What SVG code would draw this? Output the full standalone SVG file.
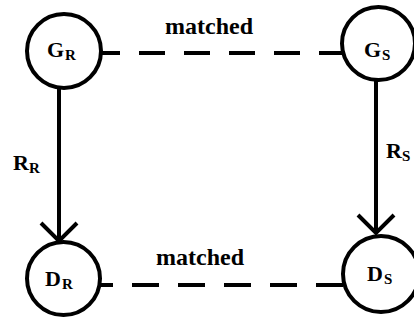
<svg xmlns="http://www.w3.org/2000/svg" width="414" height="324" viewBox="0 0 414 324">
<style>
  .node { fill: #ffffff; stroke: #000000; stroke-width: 4; }
  .edge { fill: none; stroke: #000000; stroke-width: 4; }
  .dash { stroke-dasharray: 26 19; }
  .lbl { font-family: "Liberation Serif", "Times New Roman", serif; font-weight: bold; fill: #000000; font-size: 22px; }
  .sub { font-size: 15px; }
  .elbl { font-family: "Liberation Serif", "Times New Roman", serif; font-weight: bold; fill: #000000; font-size: 24px; }
</style>
<defs>
  <marker id="vee" markerUnits="userSpaceOnUse" viewBox="-22 -22 26 44" markerWidth="26" markerHeight="44" refX="0" refY="0" orient="auto" overflow="visible">
    <path d="M-18,-18 L0,0 L-18,18" fill="none" stroke="#000000" stroke-width="4" stroke-linejoin="miter"/>
  </marker>
</defs>
<rect width="414" height="324" fill="#ffffff"/>
<g id="connectors">
  <line class="edge dash" x1="94" y1="53" x2="345" y2="53"/>
  <line class="edge" style="stroke-dasharray: 27 19" x1="86" y1="285" x2="345" y2="285"/>
  <line class="edge" x1="59" y1="88" x2="59" y2="241" marker-end="url(#vee)"/>
  <line class="edge" x1="376" y1="81" x2="376" y2="233" marker-end="url(#vee)"/>
  <text class="elbl" x="165" y="34">matched</text>
  <text class="elbl" x="156" y="265">matched</text>
  <text class="lbl" x="13" y="170">R<tspan class="sub" x="29" y="173">R</tspan></text>
  <text class="lbl" x="386" y="158">R<tspan class="sub" x="402" y="161">S</tspan></text>
</g>
<g id="node-GR">
  <circle class="node" cx="64" cy="51" r="37"/>
  <text class="lbl" x="47" y="57">G<tspan class="sub" x="65" y="60">R</tspan></text>
</g>
<g id="node-GS">
  <circle class="node" cx="378.5" cy="43.5" r="36.5"/>
  <text class="lbl" x="364" y="57">G<tspan class="sub" x="382" y="60">S</tspan></text>
</g>
<g id="node-DR">
  <circle class="node" cx="63.5" cy="278.5" r="36.5"/>
  <text class="lbl" x="45" y="286">D<tspan class="sub" x="62" y="289">R</tspan></text>
</g>
<g id="node-DS">
  <circle class="node" cx="381" cy="274" r="38"/>
  <text class="lbl" x="367" y="281">D<tspan class="sub" x="384" y="284">S</tspan></text>
</g>
</svg>
